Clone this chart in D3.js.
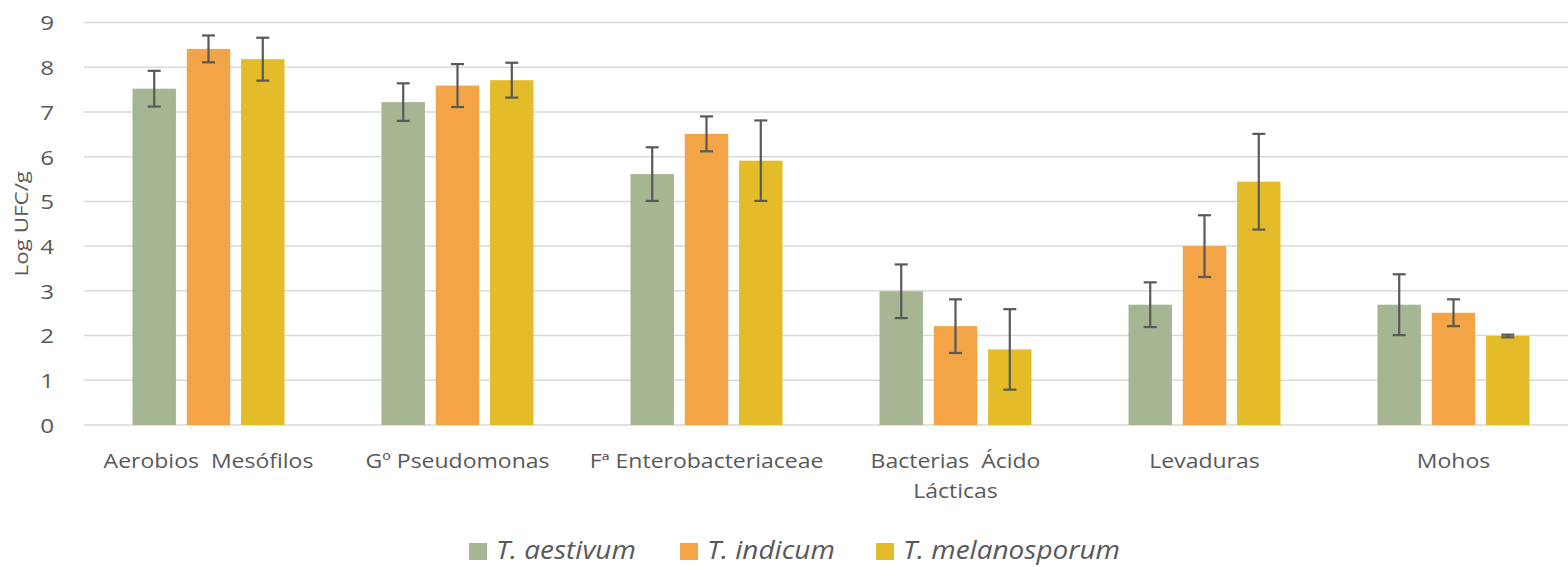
<!DOCTYPE html>
<html>
<head>
<meta charset="utf-8">
<script src="https://cdn.jsdelivr.net/npm/d3@7"></script>
<style>
  body { margin: 0; background: #fff; }
  text { font-family: "Open Sans", sans-serif; fill: #595959; }
</style>
</head>
<body>
<div id="root"></div>
<script>
const WIDTH = 1568;
const HEIGHT = 567;
const MARGIN = {top: 22.5, right: -10, bottom: 142, left: 84};
const STRETCH = 1.18; // the original font runs wider than Open Sans

const categories = ["Aerobios  Mesófilos", "Gº Pseudomonas", "Fª Enterobacteriaceae", "Bacterias  Ácido Lácticas", "Levaduras", "Mohos"];
const series = ["T. aestivum", "T. indicum", "T. melanosporum"];
const colors = ["#A6B592", "#F2A446", "#E4BC29"];

const aestivum = [7.52, 7.22, 5.61, 2.99, 2.69, 2.69];
const indicum = [8.41, 7.59, 6.51, 2.21, 4.00, 2.51];
const melanosporum = [8.18, 7.71, 5.91, 1.69, 5.44, 1.99];

const aestivumErr = [0.40, 0.42, 0.60, 0.60, 0.50, 0.68];
const indicumErr = [0.30, 0.48, 0.39, 0.60, 0.69, 0.30];
const melanosporumErr = [0.48, 0.39, 0.90, 0.90, 1.07, 0.03];

const yTicks = [0, 1, 2, 3, 4, 5, 6, 7, 8, 9];

const values = [aestivum, indicum, melanosporum];
const errors = [aestivumErr, indicumErr, melanosporumErr];

const data = categories.map((c, i) => ({
    category: c,
    bars: series.map((s, j) => ({series: j, value: values[j][i], err: errors[j][i]}))
}));

const svg = d3.select("#root")
    .append("svg")
    .attr("width", WIDTH)
    .attr("height", HEIGHT);

const xScale = d3.scaleBand()
    .domain(categories)
    .range([MARGIN.left, WIDTH - MARGIN.right])
    .paddingInner(0)
    .paddingOuter(0);

const yScale = d3.scaleLinear()
    .domain([0, 9])
    .range([HEIGHT - MARGIN.bottom, MARGIN.top]);

// inner band for the three bars of each group
const groupWidth = 152;
const xInner = d3.scaleBand()
    .domain(d3.range(series.length))
    .range([-groupWidth / 2, groupWidth / 2])
    .paddingInner(0.2);

// gridlines
svg.append("g")
    .selectAll("line")
    .data(yTicks)
    .join("line")
    .attr("x1", MARGIN.left)
    .attr("x2", WIDTH)
    .attr("y1", d => yScale(d))
    .attr("y2", d => yScale(d))
    .attr("stroke", "#D9D9D9")
    .attr("stroke-width", 1.5);

// y axis labels
const yAxis = d3.axisLeft(yScale).tickValues(yTicks).tickSize(0).tickPadding(0);
const yAxisG = svg.append("g")
    .attr("transform", `translate(54, 0)`)
    .call(yAxis);
yAxisG.select(".domain").remove();
yAxisG.selectAll("text")
    .style("font-family", "'Open Sans', sans-serif")
    .style("font-size", "20.5px")
    .attr("x", 0)
    .attr("dy", "0.36em")
    .attr("transform", `scale(${STRETCH}, 1)`);

svg.append("text")
    .attr("transform", `translate(28, ${yScale(4.5)}) rotate(-90) scale(${STRETCH}, 1)`)
    .attr("text-anchor", "middle")
    .style("font-size", "19px")
    .text("Log UFC/g");

// bars
const groups = svg.append("g")
    .selectAll("g")
    .data(data)
    .join("g")
    .attr("transform", d => `translate(${xScale(d.category) + xScale.bandwidth() / 2}, 0)`);

groups.selectAll("rect")
    .data(d => d.bars)
    .join("rect")
    .attr("x", d => xInner(d.series))
    .attr("width", xInner.bandwidth())
    .attr("y", d => yScale(d.value))
    .attr("height", d => yScale(0) - yScale(d.value))
    .attr("fill", d => colors[d.series]);

// error bars
const errG = groups.selectAll("g.err")
    .data(d => d.bars)
    .join("g")
    .attr("class", "err")
    .attr("stroke", "#595959")
    .attr("stroke-width", 2.2);

errG.append("line")
    .attr("x1", d => xInner(d.series) + xInner.bandwidth() / 2)
    .attr("x2", d => xInner(d.series) + xInner.bandwidth() / 2)
    .attr("y1", d => yScale(d.value + d.err))
    .attr("y2", d => yScale(d.value - d.err));

[1, -1].forEach(sign => {
    errG.append("line")
        .attr("x1", d => xInner(d.series) + xInner.bandwidth() / 2 - 6.5)
        .attr("x2", d => xInner(d.series) + xInner.bandwidth() / 2 + 6.5)
        .attr("y1", d => yScale(d.value + sign * d.err))
        .attr("y2", d => yScale(d.value + sign * d.err));
});

// category labels (wrapped like the original)
const labelLines = {"Bacterias  Ácido Lácticas": ["Bacterias  Ácido", "Lácticas"]};
const catLabels = svg.append("g")
    .selectAll("text")
    .data(categories)
    .join("text")
    .attr("transform", d => `translate(${xScale(d) + xScale.bandwidth() / 2}, 468) scale(${STRETCH}, 1)`)
    .attr("text-anchor", "middle")
    .style("font-size", "19.5px")
    .style("white-space", "pre");

catLabels.selectAll("tspan")
    .data(d => labelLines[d] || [d])
    .join("tspan")
    .attr("x", 0)
    .attr("dy", (d, i) => i === 0 ? 0 : 30)
    .text(d => d);

// legend
const legendX = [469, 680, 876];
const legend = svg.append("g")
    .selectAll("g")
    .data(series)
    .join("g")
    .attr("transform", (d, i) => `translate(${legendX[i]}, 543)`);

legend.append("rect")
    .attr("width", 18)
    .attr("height", 17)
    .attr("fill", (d, i) => colors[i]);

legend.append("text")
    .attr("transform", "translate(27, 16) scale(1.12, 1)")
    .style("font-size", "25px")
    .style("font-style", "italic")
    .text(d => d);
</script>
</body>
</html>
